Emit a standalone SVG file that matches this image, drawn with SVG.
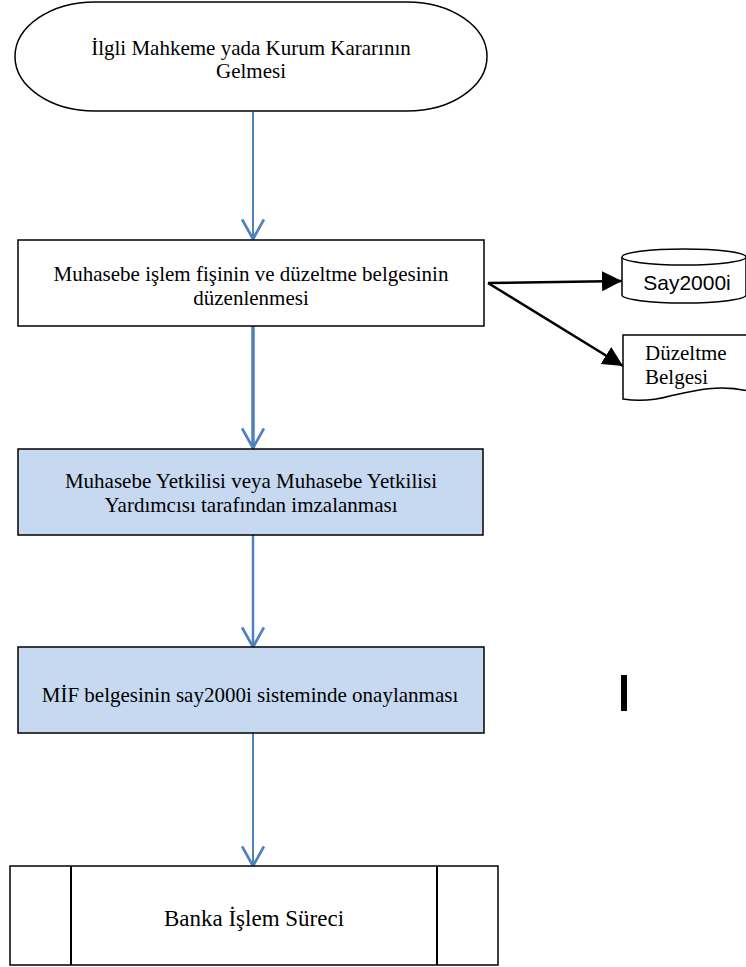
<svg xmlns="http://www.w3.org/2000/svg" width="746" height="967" viewBox="0 0 746 967">
<style>
.t{font-family:"Liberation Serif","Times New Roman",serif;font-size:21px;fill:#000;text-anchor:middle}
.box{stroke:#000;stroke-width:1.5}
.blue{stroke:#4f81bd;fill:none}
.blk{stroke:#000;stroke-width:2.5;fill:none}
</style>
<defs>
<marker id="v" markerUnits="userSpaceOnUse" markerWidth="24" markerHeight="24" refX="20" refY="11" orient="auto" viewBox="0 0 22 22">
<path d="M2,1 L20,11 L2,21" fill="none" stroke="#4f81bd" stroke-width="2.5"/>
</marker>
<marker id="a" markerUnits="userSpaceOnUse" markerWidth="20" markerHeight="20" refX="16" refY="8" orient="auto" viewBox="0 0 16 16">
<path d="M0,0 L16,8 L0,16 Z" fill="#000"/>
</marker>
</defs>
<g id="connectors">
<line class="blue" x1="253" y1="112" x2="253" y2="239" stroke-width="2" marker-end="url(#v)"/>
<line class="blue" x1="253" y1="322" x2="253" y2="448" stroke-width="3.5" marker-end="url(#v)"/>
<line class="blue" x1="253" y1="532" x2="253" y2="647" stroke-width="2.5" marker-end="url(#v)"/>
<line class="blue" x1="253" y1="732" x2="253" y2="866" stroke-width="2" marker-end="url(#v)"/>
<line class="blk" x1="488" y1="283" x2="622" y2="281" marker-end="url(#a)"/>
<line class="blk" x1="488" y1="283" x2="623" y2="366" marker-end="url(#a)"/>
</g>
<g id="start">
<rect x="15" y="2" width="472" height="109" rx="80" ry="54.5" fill="#fff" class="box"/>
<text class="t" x="251" y="55">İlgli Mahkeme yada Kurum Kararının</text>
<text class="t" x="251" y="78">Gelmesi</text>
</g>
<g id="duzenleme">
<rect x="18" y="240" width="466" height="86" fill="#fff" class="box"/>
<text class="t" x="251" y="281">Muhasebe işlem fişinin ve düzeltme belgesinin</text>
<text class="t" x="251" y="305">düzenlenmesi</text>
</g>
<g id="imza">
<rect x="18" y="449" width="465" height="86" fill="#c6d9f1" class="box"/>
<text class="t" x="251" y="488">Muhasebe Yetkilisi veya Muhasebe Yetkilisi</text>
<text class="t" x="251" y="512">Yardımcısı tarafından imzalanması</text>
</g>
<g id="onay">
<rect x="18" y="647" width="466" height="86" fill="#c6d9f1" class="box"/>
<text class="t" x="250" y="702">MİF belgesinin say2000i sisteminde onaylanması</text>
</g>
<g id="banka">
<rect x="10" y="866" width="488" height="99" fill="#fff" class="box" stroke-width="2"/>
<line x1="71" y1="866" x2="71" y2="965" stroke="#000" stroke-width="2"/>
<line x1="437" y1="866" x2="437" y2="965" stroke="#000" stroke-width="2"/>
<text class="t" x="254" y="926" style="font-size:23px">Banka İşlem Süreci</text>
</g>
<g id="say2000i">
<path d="M622,257 V295 A62,8 0 0 0 746,295 V257" fill="#fff" stroke="#000" stroke-width="1.5"/>
<ellipse cx="684" cy="257" rx="62" ry="8" fill="#fff" stroke="#000" stroke-width="1.5"/>
<text x="687" y="290" style="font-family:'Liberation Sans',Arial,sans-serif;font-size:21px;text-anchor:middle">Say2000i</text>
</g>
<g id="duzeltme-belgesi">
<path d="M623,335 H748 V391 C718,384 692,391 670,396 C652,401 636,401 623,399 Z" fill="#fff" stroke="#000" stroke-width="1.5"/>
<text x="645" y="360" style="font-family:'Liberation Serif','Times New Roman',serif;font-size:21px">Düzeltme</text>
<text x="645" y="384" style="font-family:'Liberation Serif','Times New Roman',serif;font-size:21px">Belgesi</text>
</g>
<rect id="bar" x="621" y="675" width="6" height="36" fill="#000"/>
</svg>
